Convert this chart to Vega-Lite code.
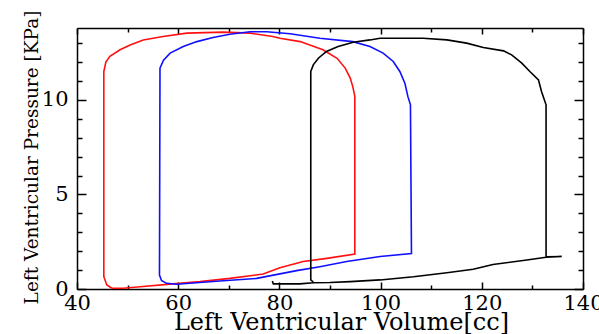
{
  "$schema": "https://vega.github.io/schema/vega-lite/v6.json",
  "autosize": "none",
  "width": 506,
  "height": 261,
  "padding": {"left": 77, "top": 28, "right": 16, "bottom": 45},
  "background": "#ffffff",
  "config": {
    "view": {"stroke": null},
    "axis": {
      "domainColor": "#000000",
      "domainWidth": 1.5,
      "tickColor": "#000000",
      "tickWidth": 1.5,
      "labelColor": "#000000",
      "labelFont": "DejaVu Serif",
      "labelFontSize": 21,
      "titleFont": "DejaVu Serif",
      "titleFontWeight": "normal",
      "titleColor": "#000000",
      "grid": false,
      "labelFlush": false,
      "labelOverlap": false,
      "labelBound": false
    }
  },
  "data": {
    "values": [
      {"loop": "red", "i": 1, "V": 46.9, "P": 0.04},
      {"loop": "red", "i": 2, "V": 49.1, "P": 0.04},
      {"loop": "red", "i": 3, "V": 52.5, "P": 0.12},
      {"loop": "red", "i": 4, "V": 58.4, "P": 0.26},
      {"loop": "red", "i": 5, "V": 64.3, "P": 0.39},
      {"loop": "red", "i": 6, "V": 70.2, "P": 0.56},
      {"loop": "red", "i": 7, "V": 76.8, "P": 0.79},
      {"loop": "red", "i": 8, "V": 80.1, "P": 1.12},
      {"loop": "red", "i": 9, "V": 84.7, "P": 1.45},
      {"loop": "red", "i": 10, "V": 89.4, "P": 1.62},
      {"loop": "red", "i": 11, "V": 94.9, "P": 1.85},
      {"loop": "red", "i": 12, "V": 94.9, "P": 10.2},
      {"loop": "red", "i": 13, "V": 94.5, "P": 10.7},
      {"loop": "red", "i": 14, "V": 94.0, "P": 11.15},
      {"loop": "red", "i": 15, "V": 93.0, "P": 11.68},
      {"loop": "red", "i": 16, "V": 91.4, "P": 12.2},
      {"loop": "red", "i": 17, "V": 88.6, "P": 12.65},
      {"loop": "red", "i": 18, "V": 84.1, "P": 13.08},
      {"loop": "red", "i": 19, "V": 80.1, "P": 13.26},
      {"loop": "red", "i": 20, "V": 78.7, "P": 13.35},
      {"loop": "red", "i": 21, "V": 74.2, "P": 13.53},
      {"loop": "red", "i": 22, "V": 68.9, "P": 13.58},
      {"loop": "red", "i": 23, "V": 61.7, "P": 13.53},
      {"loop": "red", "i": 24, "V": 57.0, "P": 13.35},
      {"loop": "red", "i": 25, "V": 53.1, "P": 13.17},
      {"loop": "red", "i": 26, "V": 50.5, "P": 12.9},
      {"loop": "red", "i": 27, "V": 48.5, "P": 12.65},
      {"loop": "red", "i": 28, "V": 46.5, "P": 12.3},
      {"loop": "red", "i": 29, "V": 45.7, "P": 12.0},
      {"loop": "red", "i": 30, "V": 45.3, "P": 11.5},
      {"loop": "red", "i": 31, "V": 45.3, "P": 0.65},
      {"loop": "red", "i": 32, "V": 45.9, "P": 0.21},
      {"loop": "red", "i": 33, "V": 46.9, "P": 0.04},
      {"loop": "blue", "i": 1, "V": 57.7, "P": 0.3},
      {"loop": "blue", "i": 2, "V": 59.7, "P": 0.25},
      {"loop": "blue", "i": 3, "V": 62.3, "P": 0.3},
      {"loop": "blue", "i": 4, "V": 68.9, "P": 0.44},
      {"loop": "blue", "i": 5, "V": 75.5, "P": 0.56},
      {"loop": "blue", "i": 6, "V": 80.1, "P": 0.8},
      {"loop": "blue", "i": 7, "V": 83.4, "P": 0.97},
      {"loop": "blue", "i": 8, "V": 88.0, "P": 1.18},
      {"loop": "blue", "i": 9, "V": 93.3, "P": 1.45},
      {"loop": "blue", "i": 10, "V": 99.9, "P": 1.72},
      {"loop": "blue", "i": 11, "V": 106.1, "P": 1.87},
      {"loop": "blue", "i": 12, "V": 105.9, "P": 9.74},
      {"loop": "blue", "i": 13, "V": 105.4, "P": 10.17},
      {"loop": "blue", "i": 14, "V": 104.8, "P": 10.88},
      {"loop": "blue", "i": 15, "V": 103.8, "P": 11.5},
      {"loop": "blue", "i": 16, "V": 102.5, "P": 12.03},
      {"loop": "blue", "i": 17, "V": 100.5, "P": 12.47},
      {"loop": "blue", "i": 18, "V": 97.9, "P": 12.82},
      {"loop": "blue", "i": 19, "V": 94.5, "P": 13.08},
      {"loop": "blue", "i": 20, "V": 88.0, "P": 13.26},
      {"loop": "blue", "i": 21, "V": 82.1, "P": 13.5},
      {"loop": "blue", "i": 22, "V": 77.5, "P": 13.6},
      {"loop": "blue", "i": 23, "V": 74.2, "P": 13.6},
      {"loop": "blue", "i": 24, "V": 70.2, "P": 13.47},
      {"loop": "blue", "i": 25, "V": 66.9, "P": 13.3},
      {"loop": "blue", "i": 26, "V": 63.7, "P": 13.08},
      {"loop": "blue", "i": 27, "V": 61.0, "P": 12.82},
      {"loop": "blue", "i": 28, "V": 58.4, "P": 12.47},
      {"loop": "blue", "i": 29, "V": 57.1, "P": 12.1},
      {"loop": "blue", "i": 30, "V": 56.4, "P": 11.68},
      {"loop": "blue", "i": 31, "V": 56.3, "P": 0.74},
      {"loop": "blue", "i": 32, "V": 56.7, "P": 0.45},
      {"loop": "blue", "i": 33, "V": 57.7, "P": 0.3},
      {"loop": "black", "i": 1, "V": 78.6, "P": 0.42},
      {"loop": "black", "i": 2, "V": 78.8, "P": 0.27},
      {"loop": "black", "i": 3, "V": 84.0, "P": 0.27},
      {"loop": "black", "i": 4, "V": 86.7, "P": 0.33},
      {"loop": "black", "i": 5, "V": 90.0, "P": 0.34},
      {"loop": "black", "i": 6, "V": 94.0, "P": 0.39},
      {"loop": "black", "i": 7, "V": 99.9, "P": 0.48},
      {"loop": "black", "i": 8, "V": 106.5, "P": 0.65},
      {"loop": "black", "i": 9, "V": 113.1, "P": 0.86},
      {"loop": "black", "i": 10, "V": 118.3, "P": 1.04},
      {"loop": "black", "i": 11, "V": 122.2, "P": 1.3},
      {"loop": "black", "i": 12, "V": 128.9, "P": 1.53},
      {"loop": "black", "i": 13, "V": 132.7, "P": 1.68},
      {"loop": "black", "i": 14, "V": 135.8, "P": 1.72},
      {"loop": "black", "i": 15, "V": 132.7, "P": 1.7},
      {"loop": "black", "i": 16, "V": 132.7, "P": 9.74},
      {"loop": "black", "i": 17, "V": 131.8, "P": 10.44},
      {"loop": "black", "i": 18, "V": 131.2, "P": 11.06},
      {"loop": "black", "i": 19, "V": 129.5, "P": 11.5},
      {"loop": "black", "i": 20, "V": 127.9, "P": 11.94},
      {"loop": "black", "i": 21, "V": 125.9, "P": 12.38},
      {"loop": "black", "i": 22, "V": 124.3, "P": 12.59},
      {"loop": "black", "i": 23, "V": 120.3, "P": 12.77},
      {"loop": "black", "i": 24, "V": 117.0, "P": 13.0},
      {"loop": "black", "i": 25, "V": 113.1, "P": 13.17},
      {"loop": "black", "i": 26, "V": 108.4, "P": 13.26},
      {"loop": "black", "i": 27, "V": 99.9, "P": 13.26},
      {"loop": "black", "i": 28, "V": 97.9, "P": 13.17},
      {"loop": "black", "i": 29, "V": 94.6, "P": 13.05},
      {"loop": "black", "i": 30, "V": 91.6, "P": 12.82},
      {"loop": "black", "i": 31, "V": 89.3, "P": 12.56},
      {"loop": "black", "i": 32, "V": 87.7, "P": 12.2},
      {"loop": "black", "i": 33, "V": 86.7, "P": 11.85},
      {"loop": "black", "i": 34, "V": 86.2, "P": 11.5},
      {"loop": "black", "i": 35, "V": 86.2, "P": 0.48},
      {"loop": "black", "i": 36, "V": 86.7, "P": 0.36}
    ]
  },
  "layer": [
    {
      "mark": {"type": "line", "strokeWidth": 1.6, "interpolate": "linear"},
      "encoding": {
        "x": {
          "field": "V", "type": "quantitative",
          "scale": {"domain": [40, 140], "nice": false, "zero": false},
          "axis": {
            "orient": "bottom",
            "values": [40, 50, 60, 70, 80, 90, 100, 110, 120, 130, 140],
            "labelExpr": "datum.value % 20 == 0 ? datum.label : ''",
            "tickSize": {"condition": {"test": "datum.value % 20 == 0", "value": -7}, "value": -4},
            "labelPadding": 10,
            "title": "Left Ventricular Volume[cc]",
            "titleFontSize": 24,
            "titleX": 264,
            "titleY": 40,
            "titleAlign": "center",
            "titleBaseline": "alphabetic"
          }
        },
        "y": {
          "field": "P", "type": "quantitative",
          "scale": {"domain": [0, 13.8], "nice": false, "zero": true},
          "axis": {
            "orient": "left",
            "values": [0, 1, 2, 3, 4, 5, 6, 7, 8, 9, 10, 11, 12, 13],
            "labelExpr": "datum.value % 5 == 0 ? datum.label : ''",
            "tickSize": {"condition": {"test": "datum.value % 5 == 0", "value": -9}, "value": -5},
            "labelPadding": 18,
            "title": "Left Ventricular Pressure  [KPa]",
            "titleFontSize": 18.5,
            "titleAngle": -90,
            "titleX": -46,
            "titleY": 129,
            "titleAlign": "center",
            "titleBaseline": "middle"
          }
        },
        "color": {
          "field": "loop", "type": "nominal",
          "scale": {"domain": ["red", "blue", "black"], "range": ["#ff1010", "#1010ff", "#000000"]},
          "legend": null
        },
        "order": {"field": "i", "type": "quantitative"}
      }
    },
    {
      "mark": {"type": "line", "opacity": 0},
      "encoding": {
        "x": {
          "field": "V", "type": "quantitative",
          "axis": {
            "orient": "top",
            "values": [40, 50, 60, 70, 80, 90, 100, 110, 120, 130, 140],
            "labels": false,
            "title": null,
            "tickSize": {"condition": {"test": "datum.value % 20 == 0", "value": -6}, "value": -4}
          }
        },
        "y": {
          "field": "P", "type": "quantitative",
          "axis": {
            "orient": "right",
            "values": [0, 1, 2, 3, 4, 5, 6, 7, 8, 9, 10, 11, 12, 13],
            "labels": false,
            "title": null,
            "tickSize": {"condition": {"test": "datum.value % 5 == 0", "value": -9}, "value": -5}
          }
        },
        "detail": {"field": "loop", "type": "nominal"},
        "order": {"field": "i", "type": "quantitative"}
      }
    }
  ],
  "resolve": {"axis": {"x": "independent", "y": "independent"}}
}
